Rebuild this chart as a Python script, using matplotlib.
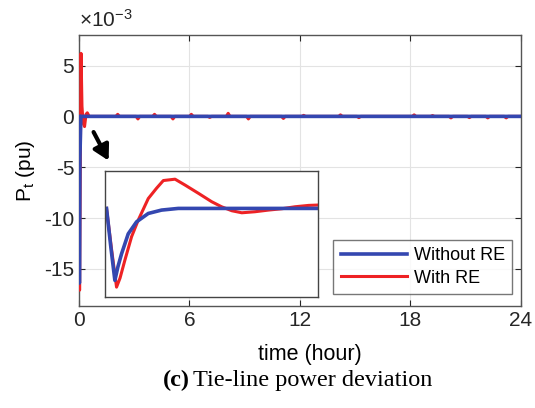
import matplotlib
matplotlib.use("Agg")
import matplotlib.pyplot as plt
from matplotlib.ticker import FuncFormatter

plt.rcParams['font.family'] = ['Liberation Sans', 'DejaVu Sans']
plt.rcParams['mathtext.fontset'] = 'custom'
plt.rcParams['mathtext.rm'] = 'Liberation Sans'
plt.rcParams['mathtext.it'] = 'Liberation Sans'
plt.rcParams['axes.unicode_minus'] = False

# main plot data (time in hours, P_t in pu)
t_without = [0.0, 0.02, 0.05, 0.1, 24.0]
p_without = [0.0, -16.4e-3, -4.0e-3, 0.0, 0.0]

t_with_start = [0.0, 0.03, 0.07, 0.11, 0.16, 0.22, 0.3, 0.38, 0.45, 0.55, 0.7]
p_with_start = [0.0, -17.1e-3, -5.0e-3, 6.2e-3, 1.0e-3, -0.6e-3, -1.0e-3, 0.2e-3, 0.35e-3, 0.0, 0.0]

# small spikes of the red curve along the day
bump_t = [2.1, 3.2, 4.1, 5.1, 6.1, 7.1, 8.1, 9.2, 11.1, 12.2, 14.2, 15.2, 18.2, 19.2, 20.2, 21.2, 22.2, 23.2]
bump_p = [0.2e-3, -0.25e-3, 0.2e-3, -0.25e-3, 0.2e-3, -0.1e-3, 0.3e-3, -0.25e-3, -0.2e-3, 0.1e-3,
          0.15e-3, -0.12e-3, 0.15e-3, 0.08e-3, -0.15e-3, -0.12e-3, -0.15e-3, -0.15e-3]

t_with = list(t_with_start)
p_with = list(p_with_start)
for bt, bp in zip(bump_t, bump_p):
    t_with += [bt - 0.1, bt, bt + 0.1]
    p_with += [0.0, bp, 0.0]
t_with.append(24.0)
p_with.append(0.0)

# zoomed transient (inset), time in minutes
ti_without = [0.0, 1.2, 2.35, 3.2, 4.23, 6.11, 8.46, 11.76, 15.5, 20.2, 59.2]
pi_without = [0.0, -8.5, -16.0, -13.0, -10.1, -5.65, -2.98, -1.12, -0.37, 0.0, 0.0]
ti_with = [0.0, 1.4, 2.82, 3.8, 5.17, 7.05, 8.93, 11.76, 14.1, 16.0, 19.3, 22.1, 25.9, 29.6,
           32.4, 35.3, 38.1, 41.8, 45.6, 49.4, 53.1, 56.9, 59.2]
pi_with = [0.0, -9.0, -17.5, -15.5, -11.5, -6.3, -2.6, 2.2, 4.5, 6.2, 6.5, 5.2, 3.35, 1.5,
           0.37, -0.52, -0.97, -0.74, -0.37, -0.07, 0.37, 0.67, 0.74]

blue = '#3447b0'
red = '#ee2224'

fig = plt.figure(figsize=(5.35, 4.08), dpi=100)
ax = fig.add_axes([0.1477, 0.249, 0.826, 0.665])

ax.plot(t_with, p_with, color=red, linewidth=2.2, label='With RE', zorder=3)
ax.plot(t_without, p_without, color=blue, linewidth=2.6, label='Without RE', zorder=4)

ax.set_xlim(0, 24)
ax.set_ylim(-18.7e-3, 8e-3)
ax.set_xticks([0, 6, 12, 18, 24])
ax.set_yticks([-15e-3, -10e-3, -5e-3, 0, 5e-3])
ax.yaxis.set_major_formatter(FuncFormatter(lambda v, pos: '%d' % round(v * 1e3)))
ax.text(0.0, 1.015, '\u00d710$^{\\mathregular{-3}}$', transform=ax.transAxes, fontsize=15,
        color='#262626', ha='left', va='bottom')
ax.tick_params(direction='in', top=True, right=True, labelsize=15, length=4, colors='#262626')
ax.grid(True, color='#e3e3e3', linewidth=0.8)
for s in ax.spines.values():
    s.set_color('#555555')
    s.set_linewidth(1.0)

ax.set_xlabel('time (hour)', fontsize=15.5, labelpad=8)
ax.xaxis.set_label_coords(0.523, -0.14)
ax.set_ylabel('P$_\\mathregular{t}$ (pu)', fontsize=15, labelpad=5)

handles, labels = ax.get_legend_handles_labels()
leg = ax.legend(handles[::-1], labels[::-1], loc='lower right', fontsize=13, handlelength=3.7,
                handletextpad=0.35, labelspacing=0.3, frameon=True, fancybox=False,
                borderaxespad=0.0, bbox_to_anchor=(0.98, 0.046))
leg.get_frame().set_edgecolor('#555555')
leg.get_frame().set_linewidth(1.0)

ax.annotate('', xy=(1.68, -4.6e-3), xytext=(0.72, -1.3e-3),
            arrowprops=dict(arrowstyle='-|>,head_length=0.9,head_width=0.5', color='black', lw=3))

# inset
axi = fig.add_axes([0.196, 0.272, 0.398, 0.309])
axi.plot(ti_with, pi_with, color=red, linewidth=2.2)
axi.plot(ti_without, pi_without, color=blue, linewidth=2.6)
axi.set_xlim(-0.47, 59.5)
axi.set_ylim(-19.7, 8.33)
axi.set_xticks([])
axi.set_yticks([])
for s in axi.spines.values():
    s.set_color('#444444')
    s.set_linewidth(1.0)

fig.text(0.354, 0.068, '(c)', fontsize=17.5, fontweight='bold', family='Liberation Serif', ha='right', va='center')
fig.text(0.361, 0.068, 'Tie-line power deviation', fontsize=17.5, family='Liberation Serif', ha='left', va='center')

fig.savefig('out.png', dpi=100)
